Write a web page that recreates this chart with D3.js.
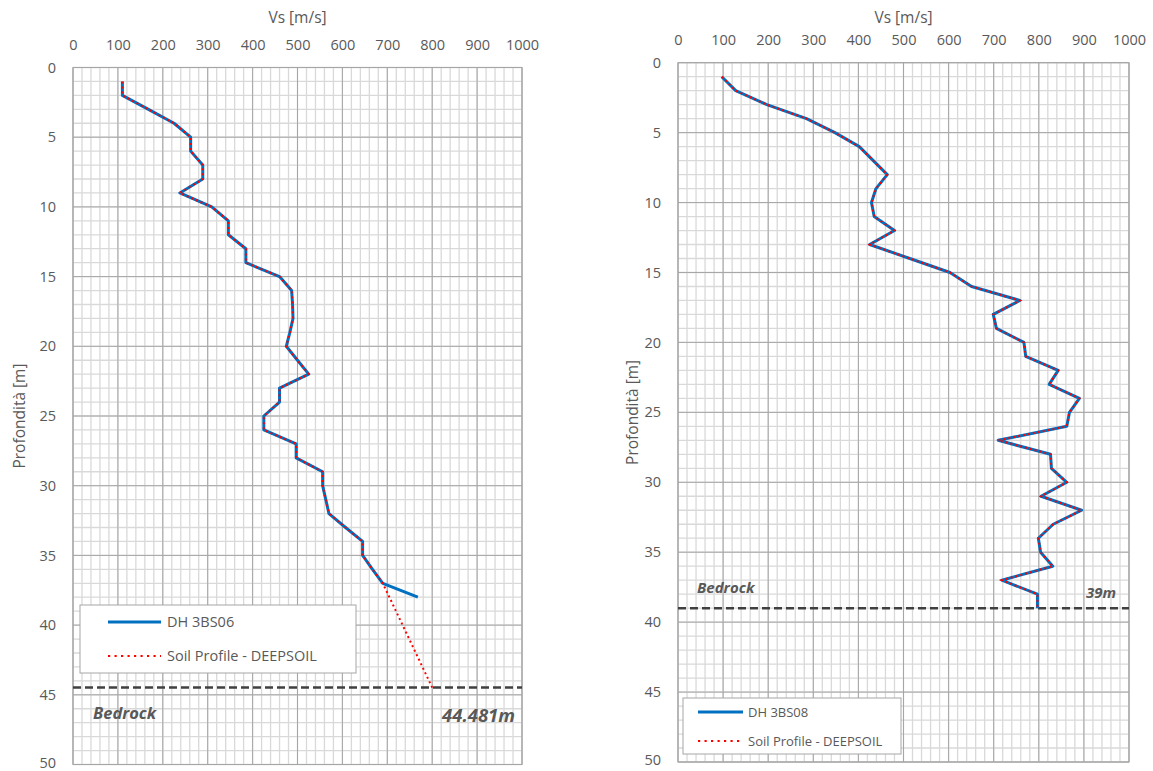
<!DOCTYPE html>
<html>
<head>
<meta charset="utf-8">
<script src="https://cdn.jsdelivr.net/npm/d3@7"></script>
<style>
  html, body { margin: 0; padding: 0; background: #fff; }
  svg { display: block; }
  text { font-family: "Open Sans", "Noto Sans", sans-serif; fill: #595959; }
</style>
</head>
<body>
<svg id="chart" width="1153" height="771"></svg>
<script>
// ---- Axis ticks ----
const vsTicks = [0, 100, 200, 300, 400, 500, 600, 700, 800, 900, 1000];
const depthTicks = [0, 5, 10, 15, 20, 25, 30, 35, 40, 45, 50];

// ---- Borehole DH 3BS06 (down-hole Vs) ----
const depth06 = [1, 2, 3, 4, 5, 6, 7, 8, 9, 10, 11, 12, 13, 14, 15, 16, 17, 18, 19, 20,
                 21, 22, 23, 24, 25, 26, 27, 28, 29, 30, 31, 32, 33, 34, 35, 36, 37, 38];
const vs06 = [110, 110, 168, 225, 262, 262, 289, 289, 238, 309, 346, 346, 385, 385, 460, 487, 489, 490, 483, 475,
              500, 525, 460, 460, 425, 425, 497, 497, 556, 556, 563, 570, 607, 645, 645, 667, 690, 768];

// ---- DEEPSOIL profile for DH 3BS06 ----
const profDepth06 = [1, 2, 3, 4, 5, 6, 7, 8, 9, 10, 11, 12, 13, 14, 15, 16, 17, 18, 19, 20,
                     21, 22, 23, 24, 25, 26, 27, 28, 29, 30, 31, 32, 33, 34, 35, 36, 37, 44.481];
const profVs06 = [110, 110, 168, 225, 262, 262, 289, 289, 238, 309, 346, 346, 385, 385, 460, 487, 489, 490, 483, 475,
                  500, 525, 460, 460, 425, 425, 497, 497, 556, 556, 563, 570, 607, 645, 645, 667, 690, 800];
const bedrock06 = 44.481;

// ---- Borehole DH 3BS08 (down-hole Vs) ----
const depth08 = [1, 2, 3, 4, 5, 6, 7, 8, 9, 10, 11, 12, 13, 14, 15, 16, 17, 18, 19, 20,
                 21, 22, 23, 24, 25, 26, 27, 28, 29, 30, 31, 32, 33, 34, 35, 36, 37, 38, 39];
const vs08 = [97, 128, 197, 285, 348, 402, 433, 464, 439, 429, 435, 480, 425, 514, 603, 651, 758, 699, 706, 767,
              771, 843, 823, 890, 868, 862, 710, 826, 828, 862, 805, 895, 832, 799, 804, 831, 718, 797, 797];

// ---- DEEPSOIL profile for DH 3BS08 ----
const profDepth08 = [1, 2, 3, 4, 5, 6, 7, 8, 9, 10, 11, 12, 13, 14, 15, 16, 17, 18, 19, 20,
                     21, 22, 23, 24, 25, 26, 27, 28, 29, 30, 31, 32, 33, 34, 35, 36, 37, 38, 39];
const profVs08 = [97, 128, 197, 285, 348, 402, 433, 464, 439, 429, 435, 480, 425, 514, 603, 651, 758, 699, 706, 767,
                  771, 843, 823, 890, 868, 862, 710, 826, 828, 862, 805, 895, 832, 799, 804, 831, 718, 797, 797];
const bedrock08 = 39;

const svg = d3.select("#chart");
svg.append("rect").attr("width", 1153).attr("height", 771).attr("fill", "#fff");

function drawPanel(p) {
  const x = d3.scaleLinear().domain([0, 1000]).range([p.left, p.right]);
  const y = d3.scaleLinear().domain([0, 50]).range([p.top, p.bottom]);
  const g = svg.append("g");

  // minor grid: 20 m/s and 1 m
  g.append("g").selectAll("line").data(d3.range(0, 1001, 20)).join("line")
    .attr("x1", d => x(d)).attr("x2", d => x(d)).attr("y1", p.top).attr("y2", p.bottom)
    .attr("stroke", "#d9d9d9").attr("stroke-width", 1.3);
  g.append("g").selectAll("line").data(d3.range(0, 51, 1)).join("line")
    .attr("y1", d => y(d)).attr("y2", d => y(d)).attr("x1", p.left).attr("x2", p.right)
    .attr("stroke", "#d9d9d9").attr("stroke-width", 1.3);
  // major grid
  g.append("g").selectAll("line").data(vsTicks).join("line")
    .attr("x1", d => x(d)).attr("x2", d => x(d)).attr("y1", p.top).attr("y2", p.bottom)
    .attr("stroke", "#a6a6a6").attr("stroke-width", 1);
  g.append("g").selectAll("line").data(depthTicks).join("line")
    .attr("y1", d => y(d)).attr("y2", d => y(d)).attr("x1", p.left).attr("x2", p.right)
    .attr("stroke", "#a6a6a6").attr("stroke-width", 1);
  g.append("rect").attr("x", p.left).attr("y", p.top)
    .attr("width", p.right - p.left).attr("height", p.bottom - p.top)
    .attr("fill", "none").attr("stroke", "#a6a6a6").attr("stroke-width", 1);

  // axes (labels only)
  const ax = g.append("g").attr("transform", `translate(0,${p.top - 18})`)
    .call(d3.axisTop(x).tickValues(vsTicks).tickFormat(d3.format("d")).tickSize(0).tickPadding(0));
  ax.select(".domain").remove();
  ax.selectAll("text").attr("font-size", 14.5).attr("fill", "#595959")
    .attr("font-family", "'Open Sans', sans-serif");
  const ay = g.append("g").attr("transform", `translate(${p.left - 17},0)`)
    .call(d3.axisLeft(y).tickValues(depthTicks).tickFormat(d3.format("d")).tickSize(0).tickPadding(0));
  ay.select(".domain").remove();
  ay.selectAll("text").attr("font-size", 14.5).attr("fill", "#595959")
    .attr("font-family", "'Open Sans', sans-serif")
    .attr("dy", d => d === 50 ? "0.2em" : "0.32em");

  g.append("text").attr("x", (p.left + p.right) / 2).attr("y", p.titleY)
    .attr("text-anchor", "middle").attr("font-size", 15.5).text("Vs [m/s]");
  g.append("text").attr("transform", `translate(${p.yTitleX},${(p.top + p.bottom) / 2}) rotate(-90)`)
    .attr("text-anchor", "middle").attr("font-size", 15.5).text("Profondità [m]");

  const line = d3.line().x(d => x(d[0])).y(d => y(d[1]));

  // bedrock
  g.append("line").attr("x1", p.left).attr("x2", p.right)
    .attr("y1", y(p.bedrock)).attr("y2", y(p.bedrock))
    .attr("stroke", "#404040").attr("stroke-width", 2.5).attr("stroke-dasharray", "8,4");

  // borehole Vs
  g.append("path").datum(d3.zip(p.vs, p.depth)).attr("d", line)
    .attr("fill", "none").attr("stroke", "#0070c0").attr("stroke-width", 3)
    .attr("stroke-linejoin", "round");
  // DEEPSOIL profile
  g.append("path").datum(d3.zip(p.profVs, p.profDepth)).attr("d", line)
    .attr("fill", "none").attr("stroke", "#ff0000").attr("stroke-width", 2)
    .attr("stroke-dasharray", "2,3");

  // bedrock labels
  g.append("text").attr("x", p.bedLabel[0]).attr("y", p.bedLabel[1])
    .attr("font-size", p.bedSize).attr("font-weight", "bold").attr("font-style", "italic")
    .attr("fill", "#404040").text("Bedrock");
  g.append("text").attr("x", p.depthLabel[0]).attr("y", p.depthLabel[1])
    .attr("text-anchor", "end")
    .attr("font-size", p.depthSize).attr("font-weight", "bold").attr("font-style", "italic")
    .attr("fill", "#404040").text(p.depthText);

  // legend
  const L = p.legend;
  const lg = g.append("g");
  lg.append("rect").attr("x", L.x).attr("y", L.y).attr("width", L.w).attr("height", L.h)
    .attr("fill", "#fff").attr("stroke", "#a6a6a6").attr("stroke-width", 1);
  lg.append("line").attr("x1", L.x + L.s0).attr("x2", L.x + L.s1)
    .attr("y1", L.y + L.r1).attr("y2", L.y + L.r1)
    .attr("stroke", "#0070c0").attr("stroke-width", 3);
  lg.append("line").attr("x1", L.x + L.s0).attr("x2", L.x + L.s1)
    .attr("y1", L.y + L.r2).attr("y2", L.y + L.r2)
    .attr("stroke", "#ff0000").attr("stroke-width", 2.2).attr("stroke-dasharray", "2.2,4.3");
  lg.append("text").attr("x", L.x + L.tx).attr("y", L.y + L.r1).attr("dy", "0.35em")
    .attr("font-size", L.fs).text(p.name);
  lg.append("text").attr("x", L.x + L.tx).attr("y", L.y + L.r2).attr("dy", "0.35em")
    .attr("font-size", L.fs).text("Soil Profile - DEEPSOIL");
}

drawPanel({
  left: 73, right: 522, top: 67.5, bottom: 764.5,
  titleY: 23, yTitleX: 25,
  depth: depth06, vs: vs06, profDepth: profDepth06, profVs: profVs06,
  bedrock: bedrock06, name: "DH 3BS06",
  bedLabel: [93, 719], bedSize: 16.5,
  depthLabel: [515, 722], depthSize: 18.5, depthText: "44.481m",
  legend: { x: 80, y: 605, w: 276, h: 68, s0: 28, s1: 81, tx: 87, r1: 17, r2: 51, fs: 14.5 }
});

drawPanel({
  left: 678, right: 1129, top: 62.7, bottom: 762,
  titleY: 23, yTitleX: 638,
  depth: depth08, vs: vs08, profDepth: profDepth08, profVs: profVs08,
  bedrock: bedrock08, name: "DH 3BS08",
  bedLabel: [697, 593], bedSize: 15,
  depthLabel: [1116, 598], depthSize: 15, depthText: "39m",
  legend: { x: 683, y: 698, w: 218, h: 56, s0: 15, s1: 60, tx: 65, r1: 14, r2: 43, fs: 13 }
});
</script>
</body>
</html>
